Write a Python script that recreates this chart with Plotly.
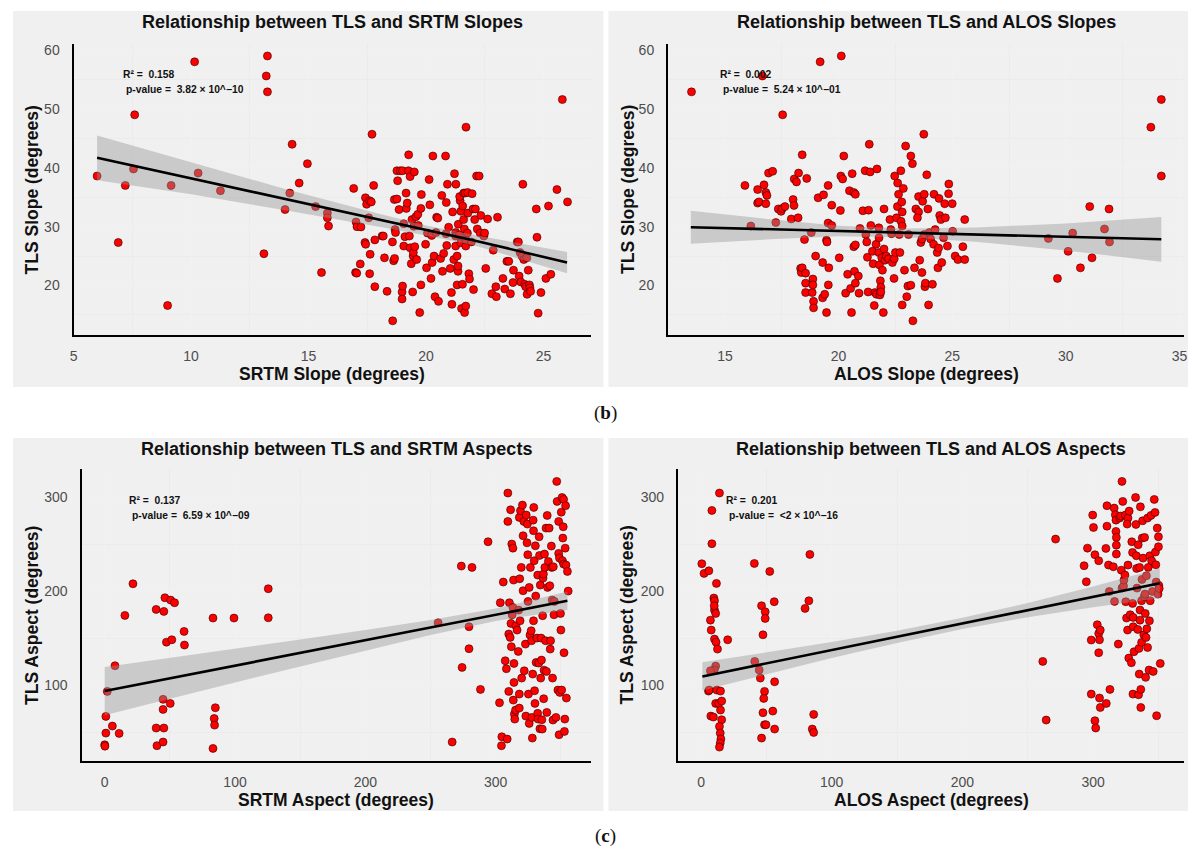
import plotly.graph_objects as go

W, H = 1196, 852

# ---------------- data: TLS vs SRTM slope ----------------
tl_x = [6.0, 6.9, 7.2, 7.55, 7.6, 9.0, 9.15, 10.15, 10.3, 11.25,
        13.25, 13.2, 13.25, 13.1, 14.0, 14.2, 14.3, 14.6, 14.95, 15.3,
        15.55, 15.8, 15.8, 15.85,
        16.92, 17.02, 17.06, 17.0, 17.05, 17.23, 17.2, 17.42, 17.47, 17.4,
        17.43, 17.6, 17.67, 17.56, 17.62, 17.6, 17.7, 17.77, 17.82, 17.82,
        18.13, 18.18, 18.23, 18.34, 18.58, 18.57, 18.62, 18.66, 18.65, 18.76,
        18.68, 18.7, 18.76, 18.79, 18.85, 18.9, 19.0, 18.98, 18.98, 19.0,
        19.05, 19.05, 19.1, 19.15, 19.16, 19.2, 19.26, 19.25, 19.29, 19.32,
        19.32, 19.37, 19.4, 19.43, 19.45, 19.46, 19.48, 19.5, 19.52, 19.57,
        19.6, 19.65, 19.67, 19.73, 19.8, 19.78, 19.78, 19.98, 20.02, 20.06,
        20.13, 20.16, 20.21, 20.24, 20.26, 20.29, 20.34, 20.38, 20.42, 20.45,
        20.5, 20.53, 20.62, 20.67, 20.7, 20.75, 20.83, 20.86, 20.85, 20.88,
        20.91, 20.96, 21.03, 21.08, 21.1, 21.13, 21.18, 21.21, 21.26, 21.26,
        21.26, 21.27, 21.32, 21.36, 21.36, 21.32, 21.37, 21.42, 21.45, 21.43,
        21.48, 21.48, 21.51, 21.55, 21.56, 21.6, 21.6, 21.63, 21.64, 21.66,
        21.69, 21.7, 21.69, 21.69, 21.76, 21.77, 21.78, 21.82, 21.85, 21.93,
        21.96, 22.0, 22.02, 22.07, 22.1, 22.15, 22.18, 22.26, 22.3, 22.33,
        22.46, 22.49, 22.54, 22.62, 22.8, 22.86, 22.97, 22.99, 23.04, 23.27,
        23.35, 23.44, 23.52, 23.59, 23.7, 23.72, 23.88, 23.93, 23.96, 24.0,
        24.03, 24.08, 24.12, 24.16, 24.2, 24.24, 24.29, 24.3, 24.35, 24.4,
        24.42, 24.45, 24.69, 24.72, 24.77, 24.89, 25.1, 25.31, 25.21, 25.57,
        25.8, 26.02]
tl_y = [38.6, 27.3, 37.0, 39.8, 49.0, 16.6, 37.0, 58.0, 39.1, 36.1,
        59.0, 55.6, 52.9, 25.4, 32.9, 35.7, 44.0, 37.4, 40.7, 33.4,
        22.2, 32.3, 31.5, 30.1,
        36.5, 30.8, 30.0, 22.2, 22.1, 29.95, 23.65, 34.9, 33.8, 27.3,
        27.0, 34.4, 34.2, 31.5, 25.3, 22.0, 45.7, 37.0, 27.75, 19.8,
        28.4, 28.4, 24.7, 19.0, 14.0, 27.4, 24.2, 24.6, 34.6, 34.7,
        29.5, 29.0, 39.5, 37.8, 32.9, 39.5, 39.5, 18.9, 17.7, 19.9,
        30.5, 26.7, 28.3, 35.7, 33.1, 34.0, 42.2, 39.5, 28.4, 38.5,
        26.4, 23.7, 31.2, 18.9, 25.0, 25.6, 30.05, 39.3, 26.6, 31.7,
        24.4, 32.1, 30.2, 15.4, 35.45, 33.1, 20.1, 27.0, 23.0, 28.9,
        38.0, 33.7, 21.2, 28.5, 23.9, 42.0, 25.0, 18.1, 29.0, 31.6,
        31.45, 17.3, 24.6, 35.3, 22.4, 25.45, 42.0, 34.1, 28.8, 26.8,
        37.2, 29.9, 22.9, 18.8, 16.8, 32.5, 24.4, 39.0, 29.0, 28.4,
        26.7, 37.2, 25.0, 22.4, 23.3, 20.1, 30.4, 28.6, 34.4, 35.1,
        32.6, 27.25, 16.1, 20.2, 33.5, 31.2, 35.7, 29.6, 15.4, 35.7,
        16.5, 46.9, 26.7, 27.8, 28.9, 35.8, 32.3, 22.0, 21.1, 27.4,
        35.6, 33.0, 19.3, 31.2, 33.0, 38.6, 29.6, 38.6, 28.9, 31.9,
        28.4, 28.9, 22.9, 31.3, 18.6, 26.0, 19.8, 18.1, 31.6, 21.2,
        19.4, 24.1, 24.1, 18.6, 20.5, 22.6, 27.4, 27.4, 21.6, 25.6,
        20.6, 25.0, 37.2, 24.4, 20.2, 19.8, 24.7, 18.5, 22.6, 20.1,
        19.6, 19.0, 33.0, 28.2, 15.3, 18.8, 21.2, 21.9, 33.5, 36.3,
        51.6, 34.2]
tl_fit_x = [6, 10, 14, 18, 20, 22, 26]
tl_fit_y = [41.7, 38.2, 34.6, 31.1, 29.35, 27.7, 23.9]
tl_fit_lo = [37.9, 35.5, 32.8, 30.0, 28.5, 26.9, 22.1]
tl_fit_hi = [45.5, 41.0, 36.4, 32.2, 30.2, 28.6, 25.7]

# ---------------- data: TLS vs ALOS slope ----------------
tr_x = [13.53, 16.65, 17.54, 19.19, 20.12, 15.88, 16.14, 16.44, 16.44, 16.5,
        16.72, 16.8, 16.85, 16.8, 16.92, 17.1, 17.24, 17.35, 17.47, 17.52,
        17.64, 17.92, 18.0, 18.04, 18.05, 18.15, 18.24, 18.22, 18.4, 18.5,
        18.6, 18.33, 18.36, 18.4, 18.55, 18.55, 18.55, 18.8, 18.84, 18.87,
        18.87, 18.9, 18.9, 18.99, 19.1, 19.3, 19.3, 19.34, 19.39, 19.47,
        19.47, 19.49, 19.54, 19.54, 19.55, 19.57, 19.7, 19.7, 20.03, 20.08,
        20.1, 20.18, 20.23, 20.31, 20.4, 20.48, 20.53, 20.57, 20.6, 20.67,
        20.74, 20.67, 20.7, 20.74, 20.74, 20.87, 20.9, 20.94, 21.07, 21.17,
        21.32, 21.2, 21.24, 21.27, 21.3, 21.35, 21.39, 21.42, 21.49, 21.52,
        21.57, 21.6, 21.67, 21.65, 21.69, 21.77, 21.78, 21.77, 21.8, 21.82,
        21.84, 21.86, 21.86, 21.9, 21.93, 21.97, 22.0, 22.0, 22.04, 22.1,
        22.2, 22.26, 22.3, 22.33, 22.37, 22.45, 22.44, 22.47, 22.5, 22.55,
        22.59, 22.6, 22.64, 22.67, 22.7, 22.74, 22.75, 22.8, 22.8, 22.78,
        22.8, 22.85, 22.9, 22.95, 23.0, 23.05, 23.18, 23.08, 23.18, 23.25,
        23.27, 23.34, 23.4, 23.52, 23.47, 23.52, 23.57, 23.62, 23.67, 23.67,
        23.7, 23.77, 23.75, 23.77, 23.8, 23.82, 23.88, 23.93, 23.96, 24.0,
        24.05, 24.13, 24.18, 24.2, 24.25, 24.34, 24.4, 24.37, 24.42, 24.45,
        24.5, 24.54, 24.62, 24.67, 24.7, 24.79, 24.84, 24.85, 25.0, 25.02,
        25.13, 25.25, 25.47, 25.55, 25.55, 29.23, 29.63, 30.1, 30.3, 30.64,
        31.05, 31.15, 31.7, 31.9, 31.92, 33.74, 34.2, 34.2]
tr_y = [52.9, 55.6, 49.0, 58.0, 59.0, 37.0, 30.1, 36.3, 34.0, 34.2,
        37.1, 35.8, 35.3, 33.9, 39.1, 39.4, 30.7, 33.0, 32.6, 33.1,
        33.4, 31.3, 34.6, 33.6, 38.1, 37.6, 39.1, 31.5, 42.2, 27.8,
        38.2, 22.9, 22.2, 23.0, 22.1, 20.4, 18.8, 29.0, 18.8, 21.1,
        20.1, 17.3, 16.2, 25.0, 34.9, 23.9, 17.9, 35.4, 18.5, 15.4,
        27.7, 27.4, 37.0, 30.6, 20.1, 23.0, 30.2, 33.65, 24.7, 32.75,
        38.6, 38.1, 42.0, 18.7, 21.9, 36.1, 19.5, 15.4, 39.0, 35.8,
        35.5, 26.6, 22.4, 26.9, 20.4, 21.6, 18.7, 29.7, 32.7, 39.5,
        32.8, 28.65, 27.4, 24.8, 18.9, 44.0, 39.3, 30.2, 25.8, 23.7,
        16.6, 18.8, 18.5, 27.0, 39.8, 29.8, 28.1, 25.6, 23.5, 18.4,
        20.8, 19.7, 18.9, 24.7, 22.6, 15.4, 33.0, 26.2, 24.3, 25.0,
        24.55, 31.2, 29.5, 28.8, 23.9, 24.55, 21.2, 38.6, 25.6, 31.5,
        33.4, 37.4, 35.5, 28.65, 25.6, 39.5, 30.9, 30.1, 32.5, 34.2,
        16.7, 36.5, 22.6, 43.7, 18.1, 19.9, 20.05, 28.65, 42.0, 40.7,
        14.0, 23.0, 33.0, 32.5, 31.5, 35.1, 24.3, 27.3, 27.9, 22.2,
        34.3, 35.5, 45.7, 28.65, 19.8, 20.4, 38.8, 33.0, 16.7, 29.0,
        27.9, 20.2, 27.0, 35.5, 29.5, 25.6, 26.35, 23.0, 34.8, 31.9,
        31.2, 23.9, 28.1, 33.9, 31.5, 26.7, 35.6, 37.25, 33.9, 29.2,
        25.0, 24.4, 26.6, 24.4, 31.2, 28.0, 21.2, 25.8, 28.9, 23.0,
        33.4, 24.7, 29.6, 33.0, 27.4, 46.9, 51.6, 38.6]
tr_fit_x = [13.5, 17, 20, 23, 26, 30, 34.2]
tr_fit_y = [29.9, 29.55, 29.25, 28.95, 28.65, 28.25, 27.85]
tr_fit_lo = [27.1, 27.85, 28.35, 28.2, 27.45, 25.95, 24.05]
tr_fit_hi = [32.7, 31.25, 30.15, 29.7, 29.85, 30.55, 31.65]

# ---------------- data: TLS vs SRTM aspect ----------------
bl_x = [0.0, 0.2, 0.9, 0.9, 2.0, 5.9, 7.9, 11.1, 15.5, 21.7,
        39.5, 39.5, 40.1, 45.4, 44.8, 45.4, 44.8, 44.8, 46.2, 47.4,
        50.3, 50.6, 51.5, 53.6, 60.9, 61.2, 83.1, 83.1, 84.0, 84.3,
        84.9, 99.2, 125.5, 125.5,
        255.8, 266.6, 273.6, 274.2, 281.8, 279.5, 279.5, 288.3, 294.1, 302.9,
        303.5, 304.4, 304.7, 305.8, 307.3, 308.2, 308.8, 309.3, 309.3, 310.0,
        310.0, 310.5, 311.4, 311.1, 311.7, 312.0, 312.3, 312.6, 313.2, 313.2,
        313.5, 313.7, 314.0, 314.0, 314.3, 314.6, 315.2, 315.5, 316.4, 317.3,
        317.6, 318.1, 318.1, 318.1, 318.4, 318.7, 319.0, 319.6, 319.9, 320.5,
        321.0, 321.0, 321.6, 321.9, 322.8, 323.1, 323.4, 324.0, 324.3, 324.6,
        324.8, 325.1, 325.7, 325.7, 326.3, 326.6, 327.2, 327.5, 327.8, 328.1,
        328.4, 328.7, 329.0, 329.0, 329.2, 329.5, 329.8, 330.1, 330.4, 330.7,
        331.0, 331.6, 332.2, 332.2, 332.5, 333.0, 333.3, 333.6, 333.9, 334.2,
        334.5, 334.8, 335.1, 335.4, 335.7, 336.0, 336.3, 336.6, 336.8, 337.1,
        337.4, 337.7, 338.3, 338.6, 338.9, 339.2, 339.5, 339.8, 340.4, 341.0,
        341.5, 341.8, 342.1, 342.7, 343.0, 343.3, 343.6, 343.9, 344.2, 344.7,
        345.0, 346.2, 346.8, 347.1, 347.7, 348.3, 348.3, 348.6, 348.9, 349.2,
        349.7, 350.0, 350.3, 350.6, 350.9, 352.1, 351.2, 351.5, 351.8, 352.1,
        352.4, 352.7, 353.0, 353.3, 353.6, 353.9, 354.2, 355.0, 355.6]
bl_y = [36.5, 35.0, 48.9, 66.7, 93.3, 56.4, 120.6, 48.6, 174.1, 207.8,
        180.5, 54.3, 35.5, 178.4, 39.4, 54.3, 84.8, 74.1, 192.9, 145.7,
        80.5, 190.4, 148.2, 187.6, 157.1, 142.6, 171.3, 32.6, 64.5, 57.4,
        75.9, 171.3, 202.5, 171.6,
        166.3, 39.4, 226.6, 118.8, 225.2, 162.1, 138.7, 95.4, 252.5, 81.2,
        187.6, 35.5, 45.0, 209.6, 125.9, 117.4, 42.6, 304.3, 274.1, 93.3,
        154.3, 187.6, 286.5, 150.7, 165.6, 140.8, 250.0, 174.8, 182.6, 245.7,
        84.0, 211.7, 123.0, 102.8, 69.1, 63.8, 73.4, 163.1, 158.5, 135.8,
        179.8, 278.4, 75.5, 90.4, 213.1, 168.4, 285.5, 225.2, 107.4, 291.5,
        200.4, 258.9, 274.1, 115.2, 143.6, 67.0, 280.9, 251.4, 271.3, 238.7,
        189.0, 90.4, 59.2, 203.9, 153.2, 225.2, 157.8, 147.2, 65.6, 43.6,
        111.7, 275.5, 264.2, 168.4, 289.0, 232.3, 94.0, 80.5, 248.2, 194.7,
        124.1, 150.0, 217.0, 69.9, 63.8, 123.4, 257.8, 237.9, 53.5, 206.4,
        107.4, 150.0, 126.6, 63.1, 53.2, 173.8, 213.8, 218.1, 85.5, 115.9,
        239.4, 225.2, 147.2, 267.0, 114.5, 70.9, 280.5, 203.9, 231.6, 267.0,
        205.7, 138.3, 147.2, 247.9, 225.2, 190.4, 107.4, 62.8, 225.9, 174.8,
        189.0, 65.6, 316.7, 295.4, 94.7, 240.1, 274.1, 47.2, 235.1, 92.2,
        176.2, 158.5, 284.0, 94.7, 299.6, 297.5, 232.3, 256.4, 268.4, 228.7,
        134.4, 50.7, 63.8, 245.7, 290.8, 227.7, 86.2, 220.9, 200.0]
bl_fit_x = [0, 50, 100, 150, 200, 250, 300, 355]
bl_fit_y = [93.6, 107.1, 120.7, 134.2, 147.7, 161.3, 174.8, 189.7]
bl_fit_lo = [67.9, 85.4, 102.8, 119.9, 136.7, 153.3, 168.2, 179.9]
bl_fit_hi = [119.3, 128.8, 138.6, 148.5, 158.7, 169.3, 181.4, 199.5]

# ---------------- data: TLS vs ALOS aspect ----------------
br_x = [0.6, 2.3, 6.0, 8.3, 8.3, 14.1, 11.8, 7.2, 7.8, 9.8,
        10.3, 10.3, 11.2, 10.1, 10.3, 11.5, 12.6, 11.2, 10.1, 7.2,
        5.7, 6.3, 7.5, 9.5, 11.2, 12.1, 14.9, 13.5, 14.9, 15.8,
        15.8, 14.1, 14.7, 15.2, 14.7, 14.1, 20.4, 41.1, 44.5, 40.8,
        45.4, 46.3, 49.1, 49.1, 47.4, 48.6, 48.0, 47.4, 48.6, 49.7,
        46.3, 52.6, 54.9, 56.0, 56.3, 56.3, 83.3, 82.5, 79.6, 86.2,
        85.1, 86.2,
        261.5, 264.1, 271.3, 293.1, 294.8, 295.7, 298.6, 298.6, 299.7, 300.3,
        301.4, 301.4, 302.0, 303.2, 304.3, 304.3, 304.9, 305.5, 304.3, 304.9,
        305.5, 309.8, 310.1, 310.6, 310.6, 311.8, 312.9, 312.4, 315.5, 316.1,
        316.4, 317.0, 317.5, 317.5, 317.8, 317.8, 317.8, 319.3, 320.4, 321.0,
        322.1, 321.6, 322.1, 323.3, 322.7, 323.6, 324.4, 325.0, 325.6, 324.7,
        326.7, 327.6, 326.1, 326.7, 326.4, 327.3, 328.4, 329.3, 329.6, 330.2,
        330.2, 330.5, 330.7, 330.7, 331.3, 332.5, 332.8, 333.1, 333.3, 333.6,
        334.2, 334.5, 334.8, 335.1, 335.3, 335.6, 335.9, 335.9, 336.2, 336.5,
        336.5, 337.1, 337.1, 337.4, 337.6, 337.9, 338.2, 338.8, 339.1, 339.7,
        339.4, 339.9, 340.2, 340.5, 340.8, 341.1, 341.7, 341.7, 342.2, 342.8,
        343.1, 343.4, 343.7, 344.3, 344.8, 345.4, 346.0, 346.8, 347.4, 347.7,
        348.0, 348.3, 348.6, 349.1, 350.0, 350.0, 349.7, 350.3, 350.6, 351.4]
br_y = [229.1, 218.8, 221.6, 250.4, 285.8, 304.3, 208.2, 169.1, 158.5, 192.6,
        189.7, 179.8, 176.2, 184.4, 148.9, 145.7, 138.3, 120.2, 116.0, 115.2,
        93.6, 94.7, 67.0, 66.0, 80.5, 94.7, 93.6, 80.5, 73.4, 83.0,
        63.1, 56.0, 48.9, 42.6, 38.3, 34.0, 148.2, 125.2, 116.0, 229.4,
        107.4, 184.4, 178.0, 170.9, 153.5, 93.3, 85.8, 70.6, 57.8, 57.8,
        43.6, 220.9, 72.3, 188.7, 103.5, 53.2, 239.0, 189.7, 181.6, 68.8,
        53.2, 49.6,
        125.2, 62.8, 255.3, 227.0, 209.9, 245.7, 90.4, 147.9, 280.9, 267.7,
        238.7, 62.1, 54.3, 164.2, 232.3, 155.0, 148.2, 158.5, 134.4, 86.2,
        76.2, 245.4, 80.5, 269.1, 290.8, 227.7, 95.4, 199.6, 225.9, 288.3,
        189.0, 281.2, 275.5, 263.5, 257.1, 248.9, 239.4, 143.6, 277.7, 279.8,
        316.7, 222.3, 203.2, 205.3, 295.4, 211.7, 217.0, 188.7, 171.3, 280.9,
        277.7, 285.1, 271.3, 227.7, 158.5, 128.7, 174.8, 123.8, 252.5, 186.9,
        241.1, 90.4, 172.0, 162.1, 135.5, 299.6, 270.9, 237.6, 224.1, 203.2,
        159.2, 249.3, 89.7, 139.0, 111.7, 225.2, 179.8, 169.1, 289.7, 95.4,
        76.2, 145.4, 189.7, 212.4, 256.4, 274.8, 235.1, 153.5, 194.0, 196.8,
        257.1, 176.2, 108.2, 150.7, 216.3, 159.9, 140.0, 277.7, 225.2, 116.0,
        168.4, 237.6, 189.7, 280.5, 232.3, 199.6, 114.5, 297.5, 283.7, 241.5,
        228.0, 209.6, 67.4, 267.0, 247.2, 257.8, 196.8, 206.0, 202.8, 123.0]
br_fit_x = [1, 50, 100, 150, 200, 250, 300, 351]
br_fit_y = [109.2, 123.1, 137.3, 151.4, 165.6, 179.7, 193.9, 208.3]
br_fit_lo = [94.2, 111.6, 128.8, 144.9, 159.6, 172.2, 182.9, 192.3]
br_fit_hi = [124.2, 134.6, 145.8, 157.9, 171.6, 187.2, 204.9, 224.3]

# ---------------- ticks / text ----------------
slope_x1_ticks = [5, 10, 15, 20, 25]
slope_x2_ticks = [15, 20, 25, 30, 35]
slope_y_ticks = [20, 30, 40, 50, 60]
aspect_x_ticks = [0, 100, 200, 300]
aspect_y_ticks = [100, 200, 300]

titles = ["Relationship between TLS and SRTM Slopes",
          "Relationship between TLS and ALOS Slopes",
          "Relationship between TLS and SRTM Aspects",
          "Relationship between TLS and ALOS Aspects"]
x_titles = ["SRTM Slope (degrees)", "ALOS Slope (degrees)",
            "SRTM Aspect (degrees)", "ALOS Aspect (degrees)"]
y_titles = ["TLS Slope (degrees)", "TLS Slope (degrees)",
            "TLS Aspect (degrees)", "TLS Aspect (degrees)"]
r2_text = ["R² =  0.158", "R² =  0.002", "R² =  0.137", "R² =  0.201"]
p_text = ["p-value =  3.82 × 10^−10", "p-value =  5.24 × 10^−01",
          "p-value =  6.59 × 10^−09", "p-value =  <2 × 10^−16"]


def pxx(x):
    return x / W


def pyy(y):
    return 1 - y / H


FONT = "Liberation Sans, Arial, sans-serif"

# layout geometry (pixels): panel box, plot area
panels = [
    dict(box=(9, 9, 603, 386), plot=(70, 42, 590, 334), xr=[5, 27], yr=[11.55, 61.05],
         xt=slope_x1_ticks, yt=slope_y_ticks, xm=[7.5, 12.5, 17.5, 22.5], ym=[15, 25, 35, 45, 55],
         x=tl_x, y=tl_y, fx=tl_fit_x, fy=tl_fit_y, lo=tl_fit_lo, hi=tl_fit_hi, ann=(118, 73)),
    dict(box=(608, 9, 1191, 386), plot=(668, 42, 1187, 334), xr=[12.5, 35.2], yr=[11.55, 61.05],
         xt=slope_x2_ticks, yt=slope_y_ticks, xm=[12.5, 17.5, 22.5, 27.5, 32.5], ym=[15, 25, 35, 45, 55],
         x=tr_x, y=tr_y, fx=tr_fit_x, fy=tr_fit_y, lo=tr_fit_lo, hi=tr_fit_hi, ann=(718, 73)),
    dict(box=(9, 437, 603, 811), plot=(78, 468, 590, 761), xr=[-17.75, 372.75], yr=[19, 330],
         xt=aspect_x_ticks, yt=aspect_y_ticks, xm=[50, 150, 250, 350], ym=[50, 150, 250],
         x=bl_x, y=bl_y, fx=bl_fit_x, fy=bl_fit_y, lo=bl_fit_lo, hi=bl_fit_hi, ann=(124, 500)),
    dict(box=(608, 437, 1191, 811), plot=(678, 468, 1187, 761), xr=[-17.6, 369.6], yr=[19, 330],
         xt=aspect_x_ticks, yt=aspect_y_ticks, xm=[50, 150, 250, 350], ym=[50, 150, 250],
         x=br_x, y=br_y, fx=br_fit_x, fy=br_fit_y, lo=br_fit_lo, hi=br_fit_hi, ann=(724, 500)),
]

fig = go.Figure()
shapes = []
annotations = []
layout_axes = {}

for i, p in enumerate(panels):
    n = "" if i == 0 else str(i + 1)
    xa, ya = "x" + n, "y" + n
    # points
    fig.add_trace(go.Scatter(
        x=p["x"], y=p["y"], mode="markers", xaxis=xa, yaxis=ya, showlegend=False,
        marker=dict(size=8, color="#ff0000", line=dict(color="#2b0000", width=0.6)),
        hoverinfo="skip"))
    # confidence band
    fig.add_trace(go.Scatter(
        x=p["fx"] + p["fx"][::-1], y=p["hi"] + p["lo"][::-1], mode="lines",
        fill="toself", fillcolor="rgba(150,150,150,0.42)", line=dict(width=0),
        xaxis=xa, yaxis=ya, showlegend=False, hoverinfo="skip"))
    # fit line
    fig.add_trace(go.Scatter(
        x=p["fx"], y=p["fy"], mode="lines", line=dict(color="black", width=2.6),
        xaxis=xa, yaxis=ya, showlegend=False, hoverinfo="skip"))

    x0, y0, x1, y1 = p["plot"]
    common = dict(showline=True, linecolor="black", linewidth=2.2, zeroline=False,
                  showgrid=True, gridcolor="#f1f1f1", gridwidth=1,
                  ticks="outside", tickcolor="rgba(0,0,0,0)",
                  tickfont=dict(family=FONT, size=14, color="#4d4d4d"),
                  tickmode="array", fixedrange=True)
    layout_axes["xaxis" + n] = dict(
        common, domain=[pxx(x0), pxx(x1)], anchor=ya, range=p["xr"], tickvals=p["xt"],
        ticklen=7,
        minor=dict(tickmode="array", tickvals=p["xm"], showgrid=True, gridcolor="#ebebeb",
                   gridwidth=0.6, ticklen=0))
    layout_axes["yaxis" + n] = dict(
        common, domain=[pyy(y1), pyy(y0)], anchor=xa, range=p["yr"], tickvals=p["yt"],
        ticklen=9,
        minor=dict(tickmode="array", tickvals=p["ym"], showgrid=True, gridcolor="#ebebeb",
                   gridwidth=0.6, ticklen=0))

    bx0, by0, bx1, by1 = p["box"]
    shapes.append(dict(type="rect", xref="paper", yref="paper", layer="below",
                       x0=pxx(bx0), x1=pxx(bx1), y0=pyy(by1), y1=pyy(by0),
                       fillcolor="#f0f0f0", line=dict(width=0)))
    cx = (x0 + x1) / 2
    annotations.append(dict(text="<b>" + titles[i] + "</b>", x=pxx(cx), y=pyy(by0 + 11),
                            xref="paper", yref="paper", showarrow=False, xanchor="center",
                            yanchor="middle", font=dict(family=FONT, size=18, color="#111")))
    annotations.append(dict(text="<b>" + x_titles[i] + "</b>", x=pxx(cx), y=pyy(y1 + 39),
                            xref="paper", yref="paper", showarrow=False, xanchor="center",
                            yanchor="middle", font=dict(family=FONT, size=17.5, color="#111")))
    annotations.append(dict(text="<b>" + y_titles[i] + "</b>", x=pxx(bx0 + 19), y=pyy((y0 + y1) / 2),
                            xref="paper", yref="paper", showarrow=False, xanchor="center",
                            yanchor="middle", textangle=-90,
                            font=dict(family=FONT, size=17.5, color="#111")))
    ax, ay = p["ann"]
    annotations.append(dict(text="<b>" + r2_text[i] + "</b>", x=pxx(ax), y=pyy(ay),
                            xref="paper", yref="paper", showarrow=False, xanchor="left",
                            yanchor="middle", font=dict(family=FONT, size=10.3, color="#111")))
    annotations.append(dict(text="<b>" + p_text[i] + "</b>", x=pxx(ax + 3), y=pyy(ay + 15),
                            xref="paper", yref="paper", showarrow=False, xanchor="left",
                            yanchor="middle", font=dict(family=FONT, size=10.3, color="#111")))

for lab, yy in [("b", 412), ("c", 836)]:
    annotations.append(dict(text="(<b>" + lab + "</b>)", x=pxx(605), y=pyy(yy),
                            xref="paper", yref="paper", showarrow=False, xanchor="center",
                            yanchor="middle",
                            font=dict(family="Liberation Serif, DejaVu Serif, serif", size=19,
                                      color="#111")))

fig.update_layout(
    width=W, height=H, margin=dict(l=0, r=0, t=0, b=0),
    paper_bgcolor="white", plot_bgcolor="#e5e5e5",
    shapes=shapes, annotations=annotations, showlegend=False,
    **layout_axes)

fig.write_html("out.html", config={"displayModeBar": False})
